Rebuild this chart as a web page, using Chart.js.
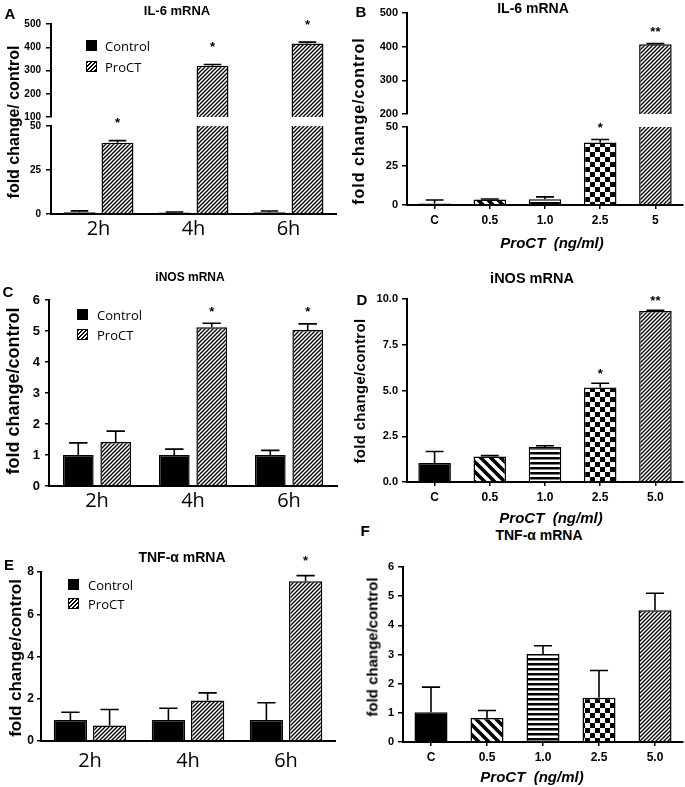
<!DOCTYPE html>
<html><head><meta charset="utf-8">
<script src="https://cdn.jsdelivr.net/npm/chart.js@4/dist/chart.umd.min.js"></script>
<style>
html,body{margin:0;padding:0;background:#fff;}
#fig{position:relative;width:685px;height:787px;overflow:hidden;font-family:"Liberation Sans",Arial,sans-serif;color:#000;background:#fff;}
canvas{position:absolute;z-index:1;}
.t{position:absolute;white-space:pre;transform:translate(-50%,-50%);line-height:1;z-index:2;}
.r{position:absolute;white-space:pre;transform:translate(-50%,-50%) rotate(-90deg);line-height:1;font-weight:bold;z-index:2;}
.sw{position:absolute;box-sizing:border-box;border:1px solid #000;z-index:2;}
</style></head>
<body><div id="fig"></div>
<script>
// ---------- data ----------
const timeLabels = ['2h', '4h', '6h'];
const doseLabelsB = ['C', '0.5', '1.0', '2.5', '5'];
const doseLabels = ['C', '0.5', '1.0', '2.5', '5.0'];
const seriesNames = ['Control', 'ProCT'];

const il6TimeControl = [1.0, 0.8, 1.0];
const il6TimeControlErr = [1.8, 1.1, 1.7];
const il6TimeProCT = [40.5, 320, 416];
const il6TimeProCTErr = [41.7, 326, 422];
const il6TimeSig = ['*', '*', '*'];

const il6Dose = [1.0, 3.5, 3.7, 40, 407];
const il6DoseErr = [3.2, 3.8, 5.2, 42, 409];
const il6DoseSig = ['', '', '', '*', '**'];

const inosTimeControl = [1.0, 1.0, 1.0];
const inosTimeControlErr = [1.39, 1.19, 1.15];
const inosTimeProCT = [1.42, 5.12, 5.03];
const inosTimeProCTErr = [1.77, 5.25, 5.23];
const inosTimeSig = ['', '*', '*'];

const inosDose = [1.04, 1.40, 1.91, 5.16, 9.35];
const inosDoseErr = [1.67, 1.44, 1.98, 5.40, 9.38];
const inosDoseSig = ['', '', '', '*', '**'];

const tnfTimeControl = [1.0, 1.0, 1.0];
const tnfTimeControlErr = [1.36, 1.55, 1.81];
const tnfTimeProCT = [0.73, 1.92, 7.56];
const tnfTimeProCTErr = [1.49, 2.28, 7.83];
const tnfTimeSig = ['', '', '*'];

const tnfDose = [1.02, 0.82, 3.02, 1.52, 4.52];
const tnfDoseErr = [1.88, 1.08, 3.30, 2.45, 5.10];

const il6TimeTicksTop = [100, 200, 300, 400, 500];
const il6TimeTicksLow = [0, 25, 50];
const il6DoseTicksTop = [200, 300, 400, 500];
const il6DoseTicksLow = [0, 25, 50];
const inosTimeTicks = [0, 1, 2, 3, 4, 5, 6];
const inosDoseTicks = [0, 2.5, 5, 7.5, 10];
const tnfTimeTicks = [0, 2, 4, 6, 8];
const tnfDoseTicks = [0, 1, 2, 3, 4, 5, 6];

// ---------- patterns ----------
function mkPattern(w, h, draw) {
  const c = document.createElement('canvas'); c.width = w; c.height = h;
  const x = c.getContext('2d');
  x.fillStyle = '#fff'; x.fillRect(0, 0, w, h);
  x.fillStyle = '#000'; x.strokeStyle = '#000';
  draw(x, w, h);
  return x.createPattern(c, 'repeat');
}
const fineHatch = mkPattern(4, 4, (x, w, h) => {
  x.lineWidth = 1.3; x.beginPath();
  x.moveTo(-1, h + 1); x.lineTo(w + 1, -1);
  x.moveTo(-1, 1); x.lineTo(1, -1);
  x.moveTo(w - 1, h + 1); x.lineTo(w + 1, h - 1);
  x.stroke();
});
const wideBack = mkPattern(10, 10, (x, w, h) => {
  x.lineWidth = 3.6; x.beginPath();
  x.moveTo(-1, -1); x.lineTo(w + 1, h + 1);
  x.moveTo(-3, h - 3); x.lineTo(3, h + 3);
  x.moveTo(w - 3, -3); x.lineTo(w + 3, 3);
  x.stroke();
});
const horizStripes = mkPattern(4, 5, (x, w, h) => { x.fillRect(0, 0, w, 2.5); });
const checker = mkPattern(10, 10, (x, w, h) => { x.fillRect(0, 0, 5, 5); x.fillRect(5, 5, 5, 5); });
const doseFills = ['#000', wideBack, horizStripes, checker, fineHatch];

// ---------- error bars / significance plugin ----------
const errPlugin = {
  id: 'errbars',
  afterDatasetsDraw(chart) {
    const ctx = chart.ctx, ys = chart.scales.y, a = chart.chartArea;
    const o = chart.options.plugins.errbars || {};
    chart.data.datasets.forEach((ds, i) => {
      const meta = chart.getDatasetMeta(i);
      meta.data.forEach((bar, j) => {
        const v = ds.data[j], e = ds.err ? ds.err[j] : null;
        if (e == null) return;
        const y0 = ys.getPixelForValue(v), y1 = ys.getPixelForValue(e);
        const half = bar.width * (o.cap || 0.55) / 2;
        ctx.save();
        ctx.beginPath(); ctx.rect(a.left, a.top - 1, a.right - a.left, a.bottom - a.top + 1); ctx.clip();
        ctx.strokeStyle = '#000'; ctx.lineWidth = 1.6;
        ctx.beginPath();
        ctx.moveTo(bar.x, y0); ctx.lineTo(bar.x, y1);
        ctx.moveTo(bar.x - half, y1); ctx.lineTo(bar.x + half, y1);
        ctx.stroke();
        ctx.restore();
        const s = ds.sig ? ds.sig[j] : '';
        if (s && e >= ys.min && e <= ys.max) {
          ctx.save(); ctx.fillStyle = '#000';
          ctx.font = o.sigFont || 'bold 13px "Liberation Sans"';
          ctx.textAlign = 'center'; ctx.textBaseline = 'middle';
          ctx.fillText(s, bar.x, y1 - (o.sigOffset || 14));
          ctx.restore();
        }
      });
    });
  }
};

Chart.defaults.font.family = '"Liberation Sans", Arial, sans-serif';
Chart.defaults.color = '#000';

const fig = document.getElementById('fig');

function yScale(ticksArr, w, o) {
  return {
    min: ticksArr[0], max: ticksArr[ticksArr.length - 1],
    afterBuildTicks: s => { s.ticks = ticksArr.map(v => ({ value: v })); },
    afterFit: s => { s.width = w; },
    border: { display: true, color: '#000', width: 2 },
    grid: { display: true, drawOnChartArea: false, drawTicks: true, tickLength: o.tl, color: '#000', lineWidth: 1.5 },
    ticks: { color: '#000', font: o.font, padding: o.pad, callback: o.fmt || (v => String(v)) }
  };
}

function makeChart(box, area, labels, datasets, opt) {
  const cv = document.createElement('canvas');
  cv.width = box.w; cv.height = box.h;
  cv.style.left = box.l + 'px'; cv.style.top = box.t + 'px';
  cv.style.width = box.w + 'px'; cv.style.height = box.h + 'px';
  fig.appendChild(cv);
  const xh = box.t + box.h - area.b;
  const xs = opt.xShow ? {
    display: true, offset: true,
    border: { display: true, color: '#000', width: 2 },
    grid: opt.xTicks ? { display: true, drawOnChartArea: false, offset: false, drawTicks: true, tickLength: 4, color: '#000', lineWidth: 1.5 }
                     : { display: false, drawTicks: false },
    ticks: { color: '#000', font: opt.xFont, padding: opt.xPad, maxRotation: 0, autoSkip: false },
    afterFit: s => { s.height = xh; }
  } : { display: false, offset: true };
  return new Chart(cv, {
    type: 'bar',
    data: { labels: labels, datasets: datasets },
    options: {
      responsive: false, animation: false, events: [],
      layout: { padding: { left: 0, top: area.t - box.t, right: box.l + box.w - area.r, bottom: opt.xShow ? 0 : xh } },
      plugins: { legend: { display: false }, title: { display: false }, tooltip: { enabled: false },
                 errbars: { cap: opt.cap, sigOffset: opt.sigOffset, sigFont: opt.sigFont } },
      scales: { x: xs, y: yScale(opt.ticks, area.l - box.l, opt.y) }
    },
    plugins: [errPlugin]
  });
}

function groupSets(ctrl, ctrlErr, proct, proctErr, sig, cp, bp) {
  const common = { borderColor: '#000', borderWidth: 1.5, categoryPercentage: cp, barPercentage: bp, clip: 0 };
  return [
    Object.assign({ label: seriesNames[0], data: ctrl, err: ctrlErr, sig: null, backgroundColor: '#000' }, common),
    Object.assign({ label: seriesNames[1], data: proct, err: proctErr, sig: sig, backgroundColor: fineHatch }, common)
  ];
}
function doseSet(vals, errs, sig) {
  return [{ label: 'ProCT', data: vals, err: errs, sig: sig, backgroundColor: doseFills,
            borderColor: '#000', borderWidth: 1.5, categoryPercentage: 1, barPercentage: 0.59, clip: 0 }];
}

const timeXFont = { family: '"Open Sans"', size: 20 };
const doseXFont = { family: '"Liberation Sans"', size: 12, weight: 'bold' };
const doseYOpt = { tl: 5, pad: 4, font: { size: 11, weight: 'bold' } };
const sigBold = 'bold 13px "Liberation Sans"';

// ---------- Panel A (broken axis) ----------
makeChart({ l: 0, t: 8, w: 340, h: 122 }, { l: 51, t: 24, r: 336, b: 117 }, timeLabels,
  groupSets(il6TimeControl, il6TimeControlErr, il6TimeProCT, il6TimeProCTErr, il6TimeSig, 0.8, 0.84),
  { xShow: false, ticks: il6TimeTicksTop, y: { tl: 5, pad: 5, font: { size: 10, weight: 'bold' } }, cap: 0.55, sigOffset: 17, sigFont: sigBold });
makeChart({ l: 0, t: 110, w: 340, h: 140 }, { l: 51, t: 126, r: 336, b: 214 }, timeLabels,
  groupSets(il6TimeControl, il6TimeControlErr, il6TimeProCT, il6TimeProCTErr, il6TimeSig, 0.8, 0.84),
  { xShow: true, xFont: timeXFont, xPad: 3, ticks: il6TimeTicksLow, y: { tl: 5, pad: 5, font: { size: 10, weight: 'bold' } }, cap: 0.55, sigOffset: 17, sigFont: sigBold });

// ---------- Panel B (broken axis) ----------
makeChart({ l: 340, t: 2, w: 345, h: 126 }, { l: 407, t: 13, r: 683, b: 114 }, doseLabelsB,
  doseSet(il6Dose, il6DoseErr, il6DoseSig),
  { xShow: false, ticks: il6DoseTicksTop, y: doseYOpt, cap: 0.55, sigOffset: 11, sigFont: sigBold });
makeChart({ l: 340, t: 112, w: 345, h: 120 }, { l: 407, t: 127, r: 683, b: 205 }, doseLabelsB,
  doseSet(il6Dose, il6DoseErr, il6DoseSig),
  { xShow: true, xTicks: true, xFont: doseXFont, xPad: 4, ticks: il6DoseTicksLow, y: doseYOpt, cap: 0.55, sigOffset: 11, sigFont: sigBold });

// ---------- Panel C ----------
makeChart({ l: 0, t: 286, w: 340, h: 234 }, { l: 49, t: 300, r: 337, b: 486 }, timeLabels,
  groupSets(inosTimeControl, inosTimeControlErr, inosTimeProCT, inosTimeProCTErr, inosTimeSig, 0.78, 0.82),
  { xShow: true, xFont: timeXFont, xPad: 3, ticks: inosTimeTicks, y: { tl: 4, pad: 5, font: { size: 13, weight: 'bold' } }, cap: 0.6, sigOffset: 11, sigFont: sigBold });

// ---------- Panel D ----------
makeChart({ l: 340, t: 287, w: 345, h: 223 }, { l: 407, t: 299, r: 683, b: 482 }, doseLabels,
  doseSet(inosDose, inosDoseErr, inosDoseSig),
  { xShow: true, xTicks: true, xFont: doseXFont, xPad: 4, ticks: inosDoseTicks,
    y: { tl: 5, pad: 4, font: { size: 11, weight: 'bold' }, fmt: v => Number(v).toFixed(1) }, cap: 0.55, sigOffset: 9, sigFont: sigBold });

// ---------- Panel E ----------
makeChart({ l: 0, t: 548, w: 340, h: 239 }, { l: 41, t: 572, r: 335, b: 741 }, timeLabels,
  groupSets(tnfTimeControl, tnfTimeControlErr, tnfTimeProCT, tnfTimeProCTErr, tnfTimeSig, 0.8, 0.85),
  { xShow: true, xFont: timeXFont, xPad: 8, ticks: tnfTimeTicks, y: { tl: 4, pad: 3, font: { size: 12, weight: 'bold' } }, cap: 0.55, sigOffset: 14, sigFont: sigBold });

// ---------- Panel F ----------
makeChart({ l: 340, t: 553, w: 345, h: 234 }, { l: 403, t: 567, r: 683, b: 742 }, doseLabels,
  doseSet(tnfDose, tnfDoseErr, null),
  { xShow: true, xTicks: true, xFont: doseXFont, xPad: 4, ticks: tnfDoseTicks, y: doseYOpt, cap: 0.55, sigOffset: 12, sigFont: sigBold });

// ---------- text ----------
function txt(s, x, y, css, rot) {
  const d = document.createElement('div');
  d.textContent = s; d.className = rot ? 'r' : 't';
  d.style.cssText = css || '';
  d.style.left = x + 'px'; d.style.top = y + 'px';
  fig.appendChild(d); return d;
}
// panel letters
txt('A', 10, 13, 'font-weight:bold;font-size:15px;');
txt('B', 361, 11, 'font-weight:bold;font-size:15px;');
txt('C', 8, 291, 'font-weight:bold;font-size:15px;');
txt('D', 362, 299, 'font-weight:bold;font-size:15px;');
txt('E', 9, 564, 'font-weight:bold;font-size:15px;');
txt('F', 365, 530, 'font-weight:bold;font-size:15px;');
// titles
txt('IL-6 mRNA', 177, 10, 'font-weight:bold;font-size:13px;');
txt('IL-6 mRNA', 533, 8, 'font-weight:bold;font-size:14px;');
txt('iNOS mRNA', 190, 277, 'font-weight:bold;font-size:12px;');
txt('iNOS mRNA', 532, 278, 'font-weight:bold;font-size:14.5px;');
txt('TNF-\u03b1 mRNA', 182, 557, 'font-weight:bold;font-size:14px;');
txt('TNF-\u03b1 mRNA', 539, 535, 'font-weight:bold;font-size:14px;');
// y titles
txt('fold change/ control', 14, 122, 'font-size:16px;', true);
txt('fold change/control', 359, 121, 'font-size:16px;letter-spacing:1px;', true);
txt('fold change/control', 13, 391, 'font-size:18px;', true);
txt('fold change/control', 359, 391, 'font-size:15px;letter-spacing:0.3px;', true);
txt('fold change/control', 15, 658, 'font-size:17px;', true);
txt('fold change/control', 372, 647, 'font-size:15px;', true);
// x titles
txt('ProCT  (ng/ml)', 552, 242, 'font-weight:bold;font-style:italic;font-size:15px;');
txt('ProCT  (ng/ml)', 551, 517, 'font-weight:bold;font-style:italic;font-size:15px;');
txt('ProCT  (ng/ml)', 532, 776, 'font-weight:bold;font-style:italic;font-size:15px;');
// legends
const hatchCSS = 'repeating-linear-gradient(135deg,#000 0 1.2px,#fff 1.2px 2.8px)';
function legend(x, y1, y2, size, tx) {
  const a = document.createElement('div'); a.className = 'sw';
  a.style.cssText = `left:${x}px;top:${y1}px;width:${size}px;height:${size}px;background:#000;`;
  fig.appendChild(a);
  const b = document.createElement('div'); b.className = 'sw';
  b.style.cssText = `left:${x}px;top:${y2}px;width:${size}px;height:${size}px;background:${hatchCSS};`;
  fig.appendChild(b);
  txt(seriesNames[0], tx, y1 + size / 2, 'font-family:"Open Sans";font-size:13px;transform:translate(0,-50%);');
  txt(seriesNames[1], tx, y2 + size / 2, 'font-family:"Open Sans";font-size:13px;transform:translate(0,-50%);');
}
legend(86, 40, 61, 11, 105);
legend(77, 309, 329, 11, 97);
legend(68, 579, 598, 11, 88);
</script>
</body></html>
